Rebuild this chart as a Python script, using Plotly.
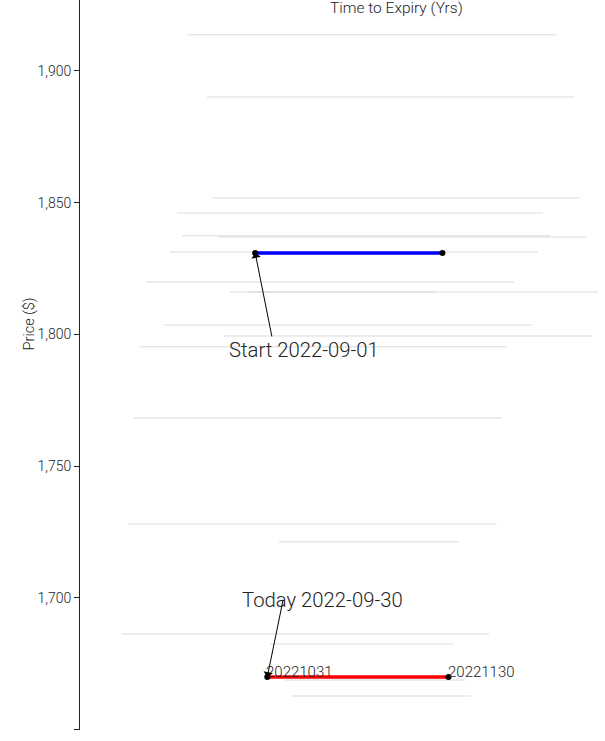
import plotly.graph_objects as go

# Historical daily term structures (time to expiry in years, price in $)
gray_tte_start = [0.0490, 0.0576, 0.0599, 0.0440, 0.0463, 0.0626, 0.0408, 0.0299, 0.0680, 0.0762,
                  0.0381, 0.0653, 0.0272, 0.0245, 0.0218, 0.0902, 0.0190, 0.0862, 0.0930, 0.0957]
gray_tte_end = [0.2159, 0.2240, 0.2268, 0.2100, 0.2132, 0.2295, 0.2077, 0.1968, 0.2349, 0.1610,
                0.2050, 0.2322, 0.1937, 0.1914, 0.1887, 0.1719, 0.1855, 0.1692, 0.1746, 0.1773]
gray_price = [1913.7, 1890.1, 1851.8, 1846.1, 1837.4, 1837.0, 1831.3, 1819.9, 1816.1, 1816.1,
              1803.6, 1799.4, 1795.3, 1768.3, 1728.1, 1721.3, 1686.3, 1682.5, 1668.9, 1662.8]

# Start curve (2022-09-01)
start_tte = [29 / 365, 60 / 365]
start_price = [1830.9, 1830.9]
start_label = "Start 2022-09-01"

# Today curve (2022-09-30)
today_tte = [31 / 365, 61 / 365]
today_price = [1670.0, 1670.0]
today_contracts = ["20221031", "20221130"]
today_label = "Today 2022-09-30"

y_tickvals = [1650, 1700, 1750, 1800, 1850, 1900]
y_ticktext = ["", "1,700", "1,750", "1,800", "1,850", "1,900"]

FONT = "Roboto, 'Open Sans', sans-serif"
DARK = "rgb(36,36,36)"
W = 300

fig = go.Figure()

for x0, x1, p in zip(gray_tte_start, gray_tte_end, gray_price):
    fig.add_trace(go.Scatter(
        x=[x0, x1], y=[p, p], mode="lines",
        line=dict(color="rgba(211,211,211,0.55)", width=1.5),
        hoverinfo="skip", showlegend=False,
    ))

fig.add_trace(go.Scatter(
    x=start_tte, y=start_price, mode="lines+markers",
    line=dict(color="blue", width=3.5),
    marker=dict(color="black", size=6),
    showlegend=False,
))

fig.add_trace(go.Scatter(
    x=today_tte, y=today_price, mode="lines+markers",
    line=dict(color="red", width=3.5),
    marker=dict(color="black", size=6),
    showlegend=False,
))

# contract labels next to today's points
for xv, yv, lab in zip(today_tte, today_price, today_contracts):
    fig.add_annotation(x=xv, y=yv, xref="x", yref="y", text=lab,
                       xanchor="left", yanchor="middle", xshift=-3, yshift=5, showarrow=False,
                       font=dict(family=FONT, size=15, color=DARK, weight=W))

# arrows
fig.add_annotation(x=start_tte[0], y=start_price[0], xref="x", yref="y",
                   text="", showarrow=True, ax=17, ay=85,
                   arrowhead=1, arrowsize=1.6, arrowwidth=1, arrowcolor="black")
fig.add_annotation(x=today_tte[0], y=today_price[0], xref="x", yref="y",
                   text="", showarrow=True, ax=16, ay=-78,
                   arrowhead=1, arrowsize=1.6, arrowwidth=1, arrowcolor="black")
# annotation texts
fig.add_annotation(x=0.1016, y=1794.1, xref="x", yref="y", text=start_label,
                   showarrow=False, font=dict(family=FONT, size=20.3, color=DARK, weight=W))
fig.add_annotation(x=0.1098, y=1699.2, xref="x", yref="y", text=today_label,
                   showarrow=False, font=dict(family=FONT, size=20.3, color=DARK, weight=W))
# axis titles
fig.add_annotation(x=0.602, y=1, xref="paper", yref="paper", yanchor="top", yshift=3,
                   text="Time to Expiry (Yrs)", showarrow=False,
                   font=dict(family=FONT, size=15.5, color=DARK, weight=W))
fig.add_annotation(x=0, y=1804.0, xref="paper", yref="y", xshift=-61,
                   text="Price ($)", textangle=-90, showarrow=False,
                   font=dict(family=FONT, size=14.5, color=DARK, weight=W))

fig.update_layout(
    width=605, height=741,
    margin=dict(l=80, r=0, t=0, b=11),
    paper_bgcolor="white", plot_bgcolor="white",
    font=dict(family=FONT, size=14, color=DARK, weight=W),
    showlegend=False,
    xaxis=dict(range=[0, 0.2381], showgrid=False, zeroline=False,
               showline=False, showticklabels=False, ticks=""),
    yaxis=dict(range=[1649.9, 1926.9], showgrid=False, zeroline=False,
               showline=True, linecolor=DARK, linewidth=1,
               ticks="outside", ticklen=5, tickcolor=DARK,
               tickvals=y_tickvals, ticktext=y_ticktext,
               tickfont=dict(family=FONT, size=14, color=DARK, weight=W)),
)

fig.write_html("out.html", config={"displayModeBar": False},
               post_script="document.body.style.margin='0';")
